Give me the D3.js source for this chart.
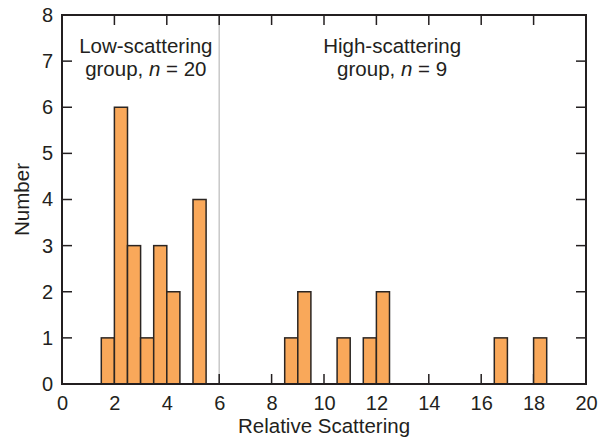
<!DOCTYPE html>
<html>
<head>
<meta charset="utf-8">
<script src="https://cdn.jsdelivr.net/npm/d3@7"></script>
<style>
  body { margin: 0; background: #fff; }
  text { font-family: "Liberation Sans", Arial, sans-serif; fill: #231f20; }
</style>
</head>
<body>
<svg id="chart" width="599" height="439"></svg>
<script>
// histogram bins (left edge, width 0.5) and counts
const binStarts = [1.5, 2, 2.5, 3, 3.5, 4, 5, 8.5, 9, 10.5, 11.5, 12, 16.5, 18];
const counts    = [1,   6, 3,   1, 3,   2, 4, 1,   2, 1,    1,    2,  1,    1];
const binWidth = 0.5;
const xTicks = [0, 2, 4, 6, 8, 10, 12, 14, 16, 18, 20];
const yTicks = [0, 1, 2, 3, 4, 5, 6, 7, 8];
const groupSplit = 6;
const groupLabels = [
  { x: 3.2, lines: ["Low-scattering", "group, ", "20"] },
  { x: 12.6, lines: ["High-scattering", "group, ", "9"] }
];

const margin = { top: 15, right: 13, bottom: 55, left: 62 };
const width = 599, height = 439;

const svg = d3.select("svg#chart");

const x = d3.scaleLinear().domain([0, 20]).range([margin.left, width - margin.right]);
const y = d3.scaleLinear().domain([0, 8]).range([height - margin.bottom, margin.top]);

const tickLen = 10;

// group divider
svg.append("line")
  .attr("x1", x(groupSplit)).attr("x2", x(groupSplit))
  .attr("y1", y(8)).attr("y2", y(0))
  .attr("stroke", "#c8c8c8").attr("stroke-width", 1.5);

// inward ticks on all sides (drawn before bars so bars cover them)
const tickG = svg.append("g").attr("stroke", "#231f20").attr("stroke-width", 1.5);
tickG.selectAll("line.bt").data(xTicks.slice(1, -1)).enter().append("line")
  .attr("x1", d => x(d)).attr("x2", d => x(d))
  .attr("y1", y(0)).attr("y2", y(0) - tickLen);
tickG.selectAll("line.tt").data(xTicks.slice(1, -1)).enter().append("line")
  .attr("x1", d => x(d)).attr("x2", d => x(d))
  .attr("y1", y(8)).attr("y2", y(8) + tickLen);
tickG.selectAll("line.lt").data(yTicks.slice(1, -1)).enter().append("line")
  .attr("x1", x(0)).attr("x2", x(0) + tickLen)
  .attr("y1", d => y(d)).attr("y2", d => y(d));
tickG.selectAll("line.rt").data(yTicks.slice(1, -1)).enter().append("line")
  .attr("x1", x(20)).attr("x2", x(20) - tickLen)
  .attr("y1", d => y(d)).attr("y2", d => y(d));

// bars
svg.append("g").selectAll("rect")
  .data(binStarts.map((b, i) => ({ b: b, c: counts[i] })))
  .enter().append("rect")
  .attr("x", d => x(d.b))
  .attr("y", d => y(d.c))
  .attr("width", d => x(d.b + binWidth) - x(d.b))
  .attr("height", d => y(0) - y(d.c))
  .attr("fill", "#f9a85a")
  .attr("stroke", "#2b2522")
  .attr("stroke-width", 1.5);

// frame
svg.append("rect")
  .attr("x", x(0)).attr("y", y(8))
  .attr("width", x(20) - x(0)).attr("height", y(0) - y(8))
  .attr("fill", "none").attr("stroke", "#231f20").attr("stroke-width", 2);

// axes labels via d3 axes (lines hidden)
const xAxis = svg.append("g")
  .attr("transform", "translate(0," + y(0) + ")")
  .call(d3.axisBottom(x).tickValues(xTicks).tickSize(0).tickPadding(12));
const yAxis = svg.append("g")
  .attr("transform", "translate(" + x(0) + ",0)")
  .call(d3.axisLeft(y).tickValues(yTicks).tickSize(0).tickPadding(9));
[xAxis, yAxis].forEach(a => {
  a.select(".domain").remove();
  a.selectAll("text").style("font-size", "20px")
    .style("font-family", "'Liberation Sans', Arial, sans-serif").attr("fill", "#231f20");
});

svg.append("text")
  .attr("x", (x(0) + x(20)) / 2).attr("y", 433)
  .attr("text-anchor", "middle").style("font-size", "20.5px")
  .text("Relative Scattering");

svg.append("text")
  .attr("transform", "translate(29," + (y(4)) + ") rotate(-90)")
  .attr("text-anchor", "middle").style("font-size", "20.5px")
  .text("Number");

// group annotations
groupLabels.forEach(g => {
  const t = svg.append("text").attr("text-anchor", "middle").style("font-size", "20.5px");
  t.append("tspan").attr("x", x(g.x)).attr("y", 53).text(g.lines[0]);
  const t2 = svg.append("text").attr("text-anchor", "middle").style("font-size", "20.5px")
    .attr("x", x(g.x)).attr("y", 76);
  t2.append("tspan").text(g.lines[1]);
  t2.append("tspan").style("font-style", "italic").text("n");
  t2.append("tspan").text(" = " + g.lines[2]);
});
</script>
</body>
</html>
